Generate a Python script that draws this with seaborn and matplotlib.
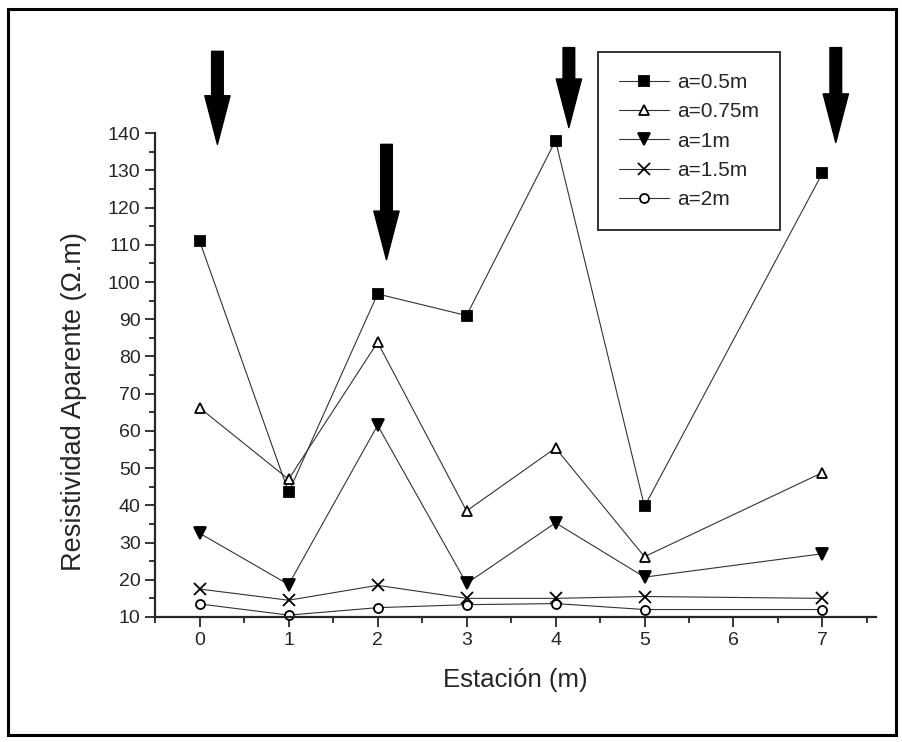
import pandas as pd
import matplotlib.pyplot as plt
import seaborn as sns
from matplotlib.patches import Rectangle
from matplotlib.ticker import MultipleLocator

# Data
estacion = [0, 1, 2, 3, 4, 5, 7]
a_05 = [111, 43.5, 96.8, 91, 138, 39.7, 129.3]
a_075 = [66.2, 47, 83.8, 38.5, 55.4, 26.2, 48.8]
a_1 = [32.5, 18.7, 61.5, 19, 35.3, 20.7, 27]
a_15 = [17.5, 14.5, 18.5, 15, 15, 15.5, 15]
a_2 = [13.5, 10.5, 12.5, 13.3, 13.6, 12, 12]
series_labels = ["a=0.5m", "a=0.75m", "a=1m", "a=1.5m", "a=2m"]
arrow_x = [0.2, 2.1, 4.15, 7.15]
arrow_top = [162, 137, 163, 163]
arrow_tip = [137, 106, 141.5, 137.5]

df = pd.DataFrame({"Estacion": estacion, "a=0.5m": a_05, "a=0.75m": a_075,
                   "a=1m": a_1, "a=1.5m": a_15, "a=2m": a_2})
long = df.melt(id_vars="Estacion", var_name="serie", value_name="rho")

sns.set_style("ticks")
plt.rcParams["font.family"] = ["Liberation Sans", "DejaVu Sans"]

fig = plt.figure(figsize=(9.02, 7.42), dpi=100)
ax = fig.add_axes([0.172, 0.1685, 0.799, 0.652])

markers = ["s", "^", "v", "x", "o"]
faces = ["black", "white", "black", "black", "white"]
sizes = [7, 7.5, 8, 8, 6.5]
for lab, m, fc, ms in zip(series_labels, markers, faces, sizes):
    sub = long[long["serie"] == lab]
    sns.lineplot(data=sub, x="Estacion", y="rho", ax=ax, color="#333333",
                 linewidth=0.8, marker=m, markersize=ms, markerfacecolor=fc,
                 markeredgecolor="black", markeredgewidth=1.3, label=lab,
                 clip_on=False)

ax.set_xlim(-0.5, 7.6)
ax.set_ylim(10, 140)
ax.xaxis.set_major_locator(MultipleLocator(1))
ax.xaxis.set_minor_locator(MultipleLocator(0.5))
ax.yaxis.set_major_locator(MultipleLocator(10))
ax.yaxis.set_minor_locator(MultipleLocator(5))
ax.tick_params(which="major", length=7, width=1.3, labelsize=14, direction="out")
ax.tick_params(which="minor", length=4, width=1.3, direction="out")
sns.despine(ax=ax)
ax.spines["left"].set_linewidth(1.6)
ax.spines["bottom"].set_linewidth(1.6)

ax.set_xlabel("Estación (m)", fontsize=18.5, labelpad=14)
ax.set_ylabel("Resistividad Aparente (Ω.m)", fontsize=19.5)
ax.yaxis.set_label_coords(-0.094, 0.446)

# thick arrows
for x, y0, y1 in zip(arrow_x, arrow_top, arrow_tip):
    ax.annotate("", xy=(x, y1), xytext=(x, y0), annotation_clip=False,
                arrowprops=dict(arrowstyle="simple,head_width=1.3,head_length=2.5,tail_width=0.6",
                                color="black", shrinkA=0, shrinkB=0,
                                mutation_scale=14))

leg = ax.legend(loc="upper left", bbox_to_anchor=(598 / 902, 1 - 52 / 742),
                bbox_transform=fig.transFigure, fontsize=15, frameon=True,
                fancybox=False, edgecolor="black", handlelength=2.4,
                borderpad=1.0, labelspacing=0.5, handletextpad=0.4,
                borderaxespad=0)
leg.get_frame().set_linewidth(1.4)

# outer frame
fig.patches.append(Rectangle((8 / 902, 7 / 742), 888 / 902, 726 / 742,
                             transform=fig.transFigure, fill=False,
                             edgecolor="black", linewidth=2.2))

fig.savefig("out.png", dpi=100)
